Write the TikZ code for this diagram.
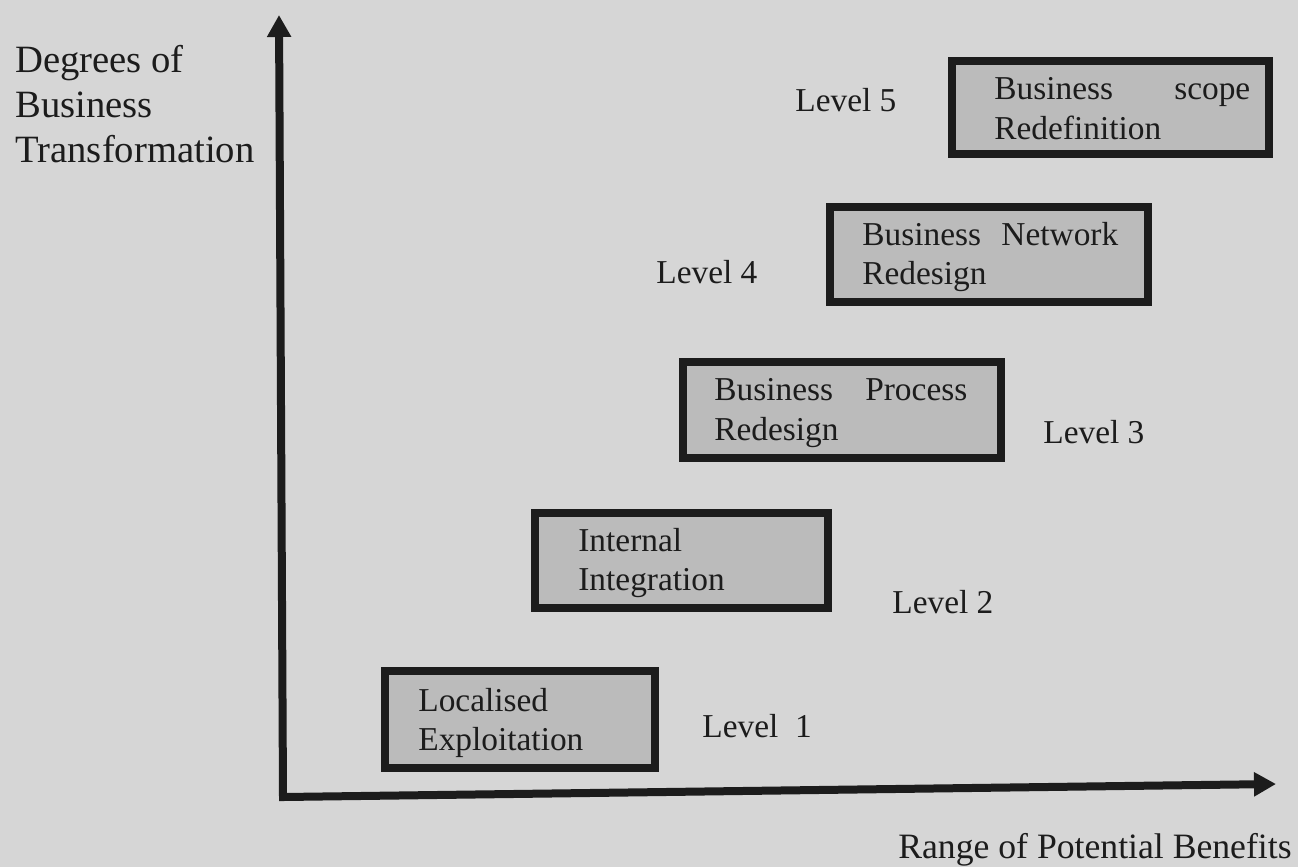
\documentclass[tikz,border=0pt]{standalone}
\usepackage{fontspec}
\setmainfont{Liberation Serif}
\usetikzlibrary{arrows.meta}
\definecolor{paper}{HTML}{D6D6D6}
\definecolor{shade}{HTML}{BBBBBB}
\definecolor{ink}{HTML}{1C1C1C}
\begin{document}
\begin{tikzpicture}[x=0.02cm,y=-0.02cm,
  levelbox/.style={draw=ink, line width=0.16cm, fill=shade, inner sep=0pt},
  boxtext/.style={anchor=west, inner sep=0pt, align=left,
    font=\fontsize{19}{22.7}\selectfont, text=ink},
  lbl/.style={anchor=base west, inner sep=0pt,
    font=\fontsize{19}{23}\selectfont, text=ink},
  axis/.style={line width=0.16cm, draw=ink, line join=miter,
    {Triangle[length=0.44cm,width=0.46cm]}-{Triangle[length=0.44cm,width=0.46cm]}}]
% page
\fill[paper] (0,0) rectangle (1298,867);
\useasboundingbox (0,0) rectangle (1298,867);

% axes
\coordinate (ytip) at (279,15);
\coordinate (o) at (283,797);
\coordinate (xtip) at (1276,784);
\draw[axis] (ytip) -- (o) -- (xtip);

% axis titles (base anchor sits on the last line)
\node[anchor=base west, inner sep=0pt, align=left, text=ink,
  font=\fontsize{22}{25.6}\selectfont] (ylab) at (15,162)
  {Degrees of\\Business\\Transformation};
\node[lbl, font=\fontsize{20.3}{24}\selectfont] (xlab) at (898,858)
  {Range of Potential Benefits};

% the five levels
\node[levelbox, minimum width=6.34cm, minimum height=1.86cm] (b5) at (1110.5,107.5) {};
\node[levelbox, minimum width=6.36cm, minimum height=1.90cm] (b4) at (989,254.5) {};
\node[levelbox, minimum width=6.36cm, minimum height=1.92cm] (b3) at (842,410) {};
\node[levelbox, minimum width=5.86cm, minimum height=1.90cm] (b2) at (681.5,560.5) {};
\node[levelbox, minimum width=5.40cm, minimum height=1.94cm] (b1) at (520,719.5) {};

\node[boxtext, text width=5.12cm] (t5) at (994,109) {Business\hfill scope\\Redefinition};
\node[boxtext, text width=5.12cm] (t4) at (862,257) {Business\hfill Network\\Redesign};
\node[boxtext, text width=5.06cm] (t3) at (714,413) {Business\hfill Process\\Redesign};
\node[boxtext] (t2) at (578,563) {Internal\\Integration};
\node[boxtext] (t1) at (418,723) {Localised\\Exploitation};

\node[lbl] (l5) at (795,111) {Level 5};
\node[lbl] (l4) at (656,283) {Level 4};
\node[lbl] (l3) at (1043,443) {Level 3};
\node[lbl] (l2) at (892,613) {Level 2};
\node[lbl] (l1) at (702,737) {Level\ \ 1};
\end{tikzpicture}
\end{document}
